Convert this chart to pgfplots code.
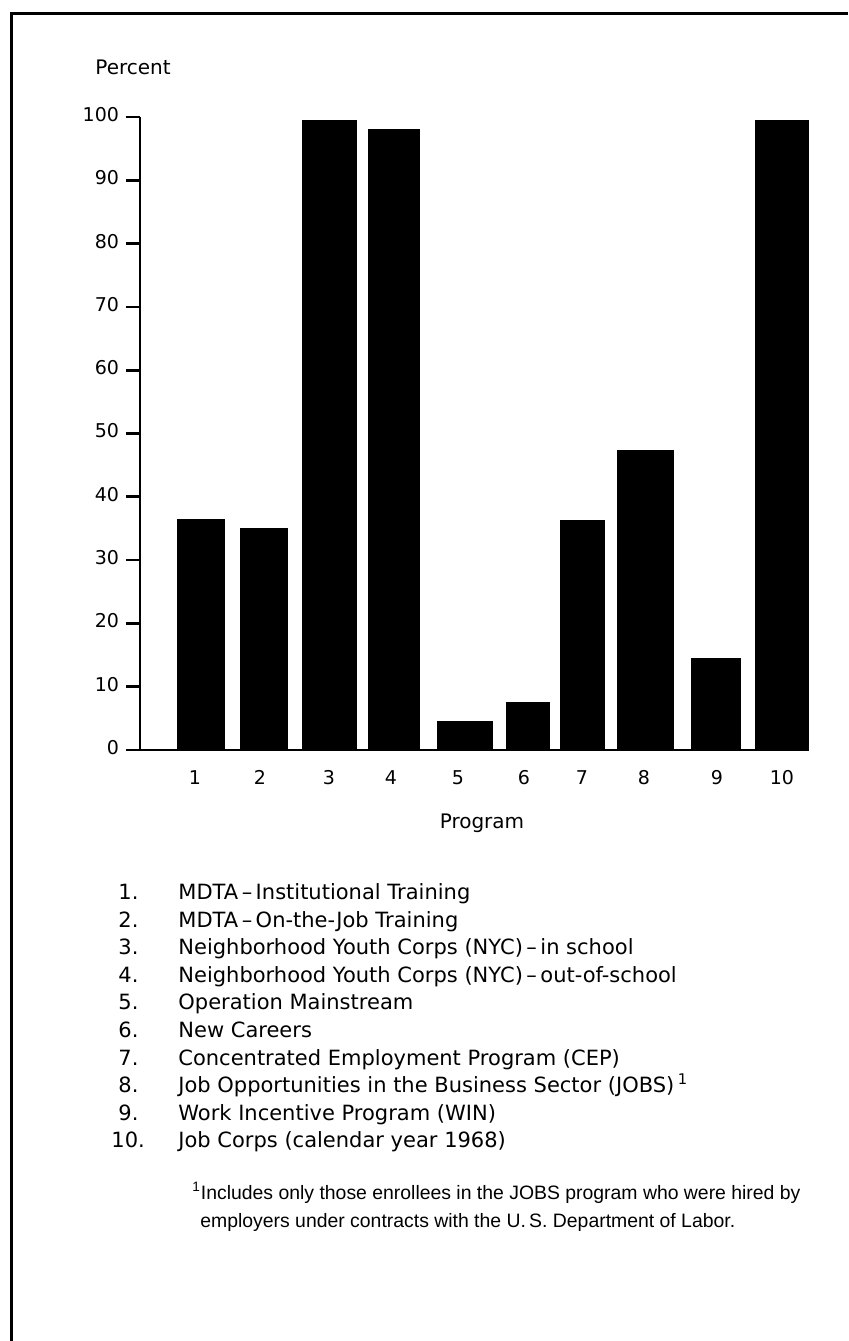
\documentclass[border=0pt]{standalone}
\usepackage{pgfplots}
\pgfplotsset{compat=1.18}
\usepackage{fontspec}
\setmainfont{DejaVu Sans}
\newfontfamily\fnfont{Liberation Sans}

\begin{document}
\begin{tikzpicture}[x=0.5pt,y=-0.5pt]
\useasboundingbox (0,0) rectangle (848,1341);
% page frame (left and top rules)
\draw[line width=1.5pt] (11,1341) -- (11,13) -- (848,13);
\begin{axis}[
  at={(70pt,-375pt)}, anchor=south west,
  scale only axis, width=334pt, height=316.5pt,
  xmin=140, xmax=808, ymin=0, ymax=100,
  axis lines*=left,
  axis line style={line width=1.35pt, black},
  ytick={0,10,20,30,40,50,60,70,80,90,100},
  xtick={195,260,329,391,458,524,582,644,717,782},
  xticklabels={1,2,3,4,5,6,7,8,9,10},
  tick align=outside, major tick length=7pt,
  ytick style={line width=1.35pt, black},
  xtick style={draw=none},
  typeset ticklabels with strut,
  tick label style={font=\fontsize{9.5pt}{11pt}\selectfont},
  xticklabel style={yshift=1pt},
  /pgf/number format/assume math mode=true,
  clip=false,
]
\addplot[ybar, fill=black, draw=black, bar width=47, bar shift=0pt] coordinates {(200.5,36.5)};
\addplot[ybar, fill=black, draw=black, bar width=47, bar shift=0pt] coordinates {(263.5,35.0)};
\addplot[ybar, fill=black, draw=black, bar width=54, bar shift=0pt] coordinates {(329,99.5)};
\addplot[ybar, fill=black, draw=black, bar width=51, bar shift=0pt] coordinates {(393.5,98.0)};
\addplot[ybar, fill=black, draw=black, bar width=55, bar shift=0pt] coordinates {(464.5,4.5)};
\addplot[ybar, fill=black, draw=black, bar width=43, bar shift=0pt] coordinates {(527.5,7.5)};
\addplot[ybar, fill=black, draw=black, bar width=44, bar shift=0pt] coordinates {(582,36.3)};
\addplot[ybar, fill=black, draw=black, bar width=56, bar shift=0pt] coordinates {(645,47.3)};
\addplot[ybar, fill=black, draw=black, bar width=49, bar shift=0pt] coordinates {(715.5,14.5)};
\addplot[ybar, fill=black, draw=black, bar width=53, bar shift=0pt] coordinates {(781.5,99.5)};
\end{axis}

\node[anchor=base west, inner sep=0, font=\fontsize{10pt}{12pt}\selectfont] at (95,74) {Percent};
\node[anchor=base, inner sep=0, font=\fontsize{10pt}{12pt}\selectfont] at (482,828) {Program};

\begin{scope}[every node/.style={anchor=base west, inner sep=0, font=\fontsize{10.5pt}{12pt}\selectfont}]
\node at (118,899)  {1.};  \node at (178,899)  {MDTA\,–\,Institutional Training};
\node at (118,927)  {2.};  \node at (178,927)  {MDTA\,–\,On-the-Job Training};
\node at (118,954)  {3.};  \node at (178,954)  {Neighborhood Youth Corps (NYC)\,–\,in school};
\node at (118,982)  {4.};  \node at (178,982)  {Neighborhood Youth Corps (NYC)\,–\,out-of-school};
\node at (118,1009) {5.};  \node at (178,1009) {Operation Mainstream};
\node at (118,1037) {6.};  \node at (178,1037) {New Careers};
\node at (118,1065) {7.};  \node at (178,1065) {Concentrated Employment Program (CEP)};
\node at (118,1092) {8.};  \node at (178,1092) {Job Opportunities in the Business Sector (JOBS)\,\textsuperscript{1}};
\node at (118,1120) {9.};  \node at (178,1120) {Work Incentive Program (WIN)};
\node at (111,1147) {10.}; \node at (178,1147) {Job Corps (calendar year 1968)};
\end{scope}

\begin{scope}[every node/.style={anchor=base west, inner sep=0, font=\fnfont\fontsize{9.7pt}{12pt}\selectfont}]
\node at (192,1199) {\textsuperscript{1}Includes only those enrollees in the JOBS program who were hired by};
\node at (200,1227) {employers under contracts with the U.\,S. Department of Labor.};
\end{scope}
\end{tikzpicture}
\end{document}
